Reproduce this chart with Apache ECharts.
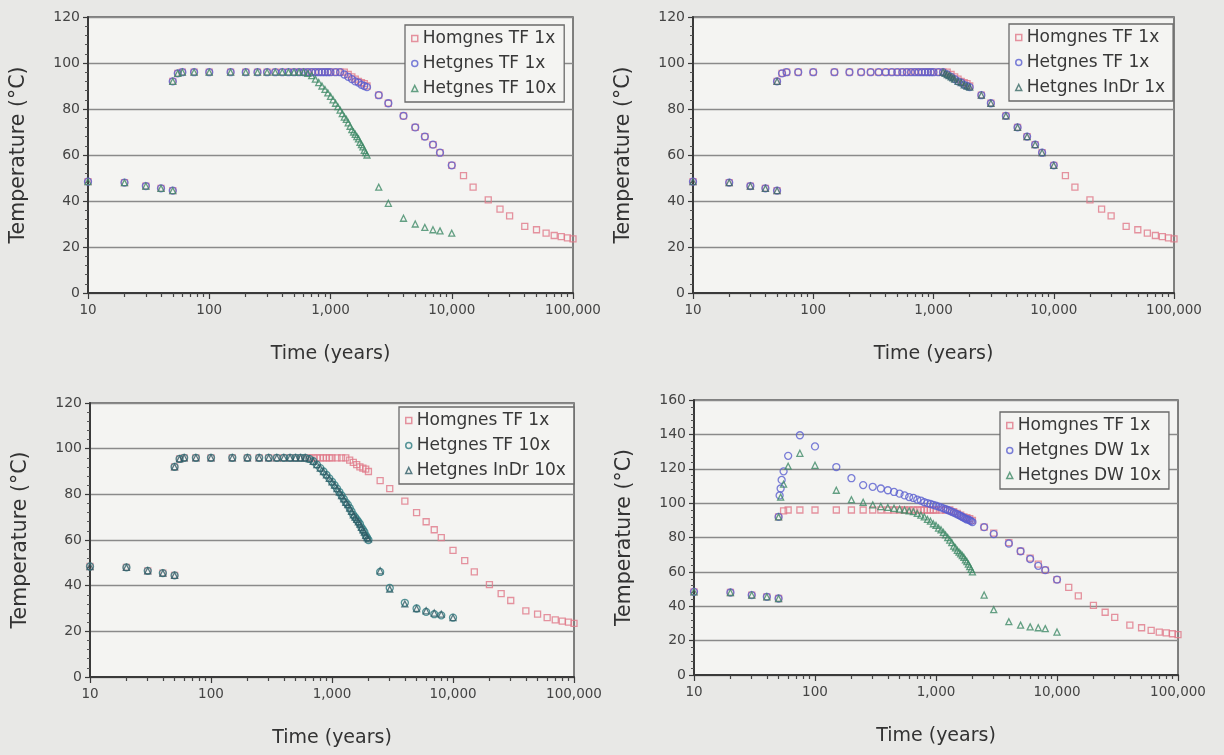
<!DOCTYPE html>
<html><head><meta charset="utf-8">
<script src="https://cdn.jsdelivr.net/npm/echarts@6/dist/echarts.min.js"></script>
<style>html,body{margin:0;padding:0;background:#e8e8e6;}#c{width:1224px;height:755px;}</style>
</head><body><div id="c"></div>
<script>
// ---------- tick labels ----------
const X_MIN = 10, X_MAX = 100000;
const MINOR_TICKS = [20,30,40,50,60,70,80,90,200,300,400,500,600,700,800,900,
  2000,3000,4000,5000,6000,7000,8000,9000,20000,30000,40000,50000,60000,70000,80000,90000];
const Y_MAX = [120, 120, 120, 160];

// ---------- Homogeneous TF 1x (all panels) ----------
const T_HOM = [10,20,30,40,50, 50,55,60,75,100, 150,200,250,300,350, 400,450,500,550,600,
  650,700,750,800,850, 900,950,1000,1100,1200, 1300,1400,1500,1600,1700, 1800,1900,2000,2500,3000,
  4000,5000,6000,7000,8000, 10000,12500,15000,20000,25000, 30000,40000,50000,60000,70000, 80000,90000,100000];
const V_HOM = [48.4,48,46.5,45.5,44.5, 92,95.5,96,96,96, 96,96,96,96,96, 96,96,96,96,96,
  96,96,96,96,96, 96,96,96,96,96, 96,95,94,93,92, 91.5,91,90,86,82.5,
  77,72,68,64.5,61, 55.5,51,46,40.5,36.5, 33.5,29,27.5,26,25, 24.5,24,23.5];

// ---------- Heterogeneous TF 1x ----------
const T_TF1 = [10,20,30,40,50, 50,55,60,75,100, 150,200,250,300,350, 400,450,500,550,600,
  650,700,750,800,850, 900,950,1000,1100,1200, 1300,1400,1500,1600,1700, 1800,1900,2000,2500,3000,
  4000,5000,6000,7000,8000, 10000];
const V_TF1 = [48.4,48,46.5,45.5,44.5, 92,95.5,96,96,96, 96,96,96,96,96, 96,96,96,96,96,
  96,96,96,96,96, 96,96,96,96,96, 95,94,93,92,91.5, 90.5,90,89.5,86,82.5,
  77,72,68,64.5,61, 55.5];

// ---------- Heterogeneous InDr 1x ----------
const T_INDR1 = [10,20,30,40,50, 50,1200,1250,1300,1350, 1400,1450,1500,1600,1700, 1800,1900,2000,2500,3000,
  4000,5000,6000,7000,8000, 10000];
const V_INDR1 = [48.4,48,46.5,45.5,44.5, 92,96,95.5,95,94.5, 94,93.5,93,92,91.5, 90.5,90,89.5,86,82.5,
  77,72,68,64.5,61, 55.5];

// ---------- Heterogeneous TF 10x / InDr 10x ----------
const T_10X = [10,20,30,40,50, 50,55,60,75,100, 150,200,250,300,350, 400,450,500,550,600,
  650,700,750,800,850, 900,950,1000,1050,1100, 1150,1200,1250,1300,1350, 1400,1450,1500,1550,1600,
  1650,1700,1750,1800,1850, 1900,1950,2000,2500,3000, 4000,5000,6000,7000,8000, 10000];
const V_TF10 = [48.4,48,46.5,45.5,44.5, 92,95.5,96,96,96, 96,96,96,96,96, 96,96,96,96,96,
  95.5,94.5,93,91.5,90, 88.5,87,85.5,84,82.5, 81,79.5,78,76.5,75.5, 74,72.5,71,70,69,
  68,67,65.5,64.5,63.5, 62,61,60,46,39, 32.5,30,28.5,27.5,27, 26];
const V_INDR10 = [48.4,48,46.5,45.5,44.5, 92,95.5,96,96,96, 96,96,96,96,96, 96,96,96,96,96,
  95.5,94.5,93,91.5,90, 88.5,87,85.5,84,82.5, 81,79.5,78,76.5,75.5, 74,72.5,71,70,69,
  68,67,65.5,64.5,63.5, 62,61,60.5,46.5,38.5, 32,30,29,28,27.5, 26];

// ---------- Heterogeneous DW 1x / DW 10x ----------
const T_DW1 = [10,20,30,40,50, 50,51,52,53,55, 60,75,100,150,200, 250,300,350,400,450,
  500,550,600,650,700, 750,800,850,900,950, 1000,1050,1100,1150,1200, 1250,1300,1350,1400,1450,
  1500,1550,1600,1650,1700, 1750,1800,1850,1900,1950, 2000,2500,3000,4000,5000, 6000,7000,8000,10000];
const V_DW1 = [48.4,48,46.5,45.5,44.5, 92,104.5,108.5,113.5,118.5, 127.5,139.5,133,121,114.5,
  110.5,109.5,108.5,107.5,106.5, 105.5,104.5,103.5,103,102, 101.5,100.5,100,99.5,99,
  98.5,98,97.5,97,96.5, 96,95.5,95,94.5,94, 93.5,93,92.5,92,91.5, 91,90.5,90.5,90,89.5,
  89,86,82,76.5,72, 67.5,63.5,61,55.5];
const T_DW10 = [10,20,30,40,50, 50,52,55,60,75, 100,150,200,250,300, 350,400,450,500,550,
  600,650,700,750,800, 850,900,950,1000,1050, 1100,1150,1200,1250,1300, 1350,1400,1450,1500,1550,
  1600,1650,1700,1750,1800, 1850,1900,1950,2000,2500, 3000,4000,5000,6000,7000, 8000,10000];
const V_DW10 = [48.4,48,46.5,45.5,44.5, 92,103.5,111,121.5,129, 122,107.5,102,100.5,99,
  98,97.5,97,96.5,96, 95.5,95,94,93,92, 90.5,89.5,88,87,85.5, 84.5,83,81.5,80,78.5,
  77,75,74,72.5,71.5, 70.5,69.5,68.5,67,66, 64.5,63,61.5,60,46.5, 38,31,29,28,27.5, 27,25];

// ---------- styling ----------
const FONT = 'DejaVu Sans';
const C_HOM = '#e07888', C_BLUE = '#5a5fd0', C_GREEN = '#3e8a66', C_TEAL = '#2c7a80',
      C_DARK = '#2f5d66', C_INDR1 = '#3a6a66';
const SYM = {rect: 6, circle: 7, triangle: 6};

const pair = (t, v) => t.map((x, i) => [x, v[i]]);
function sc(name, gi, t, v, symbol, color) {
  return {type: 'scatter', name, xAxisIndex: gi, yAxisIndex: gi, data: pair(t, v),
    symbol, symbolSize: SYM[symbol], silent: true, animation: false,
    itemStyle: {color: 'rgba(0,0,0,0)', borderColor: color, borderWidth: 1.3}};
}
function lg(name, symbol, color) {
  return {name, icon: symbol,
    itemStyle: {color: 'rgba(0,0,0,0)', borderColor: color, borderWidth: 1.5}};
}

const panels = [
  {grid: {left: 88, top: 17, width: 485, height: 276}, legendPos: {left: 405, top: 25},
   series: [['Homgnes TF 1x', T_HOM, V_HOM, 'rect', C_HOM],
            ['Hetgnes TF 1x', T_TF1, V_TF1, 'circle', C_BLUE],
            ['Hetgnes TF 10x', T_10X, V_TF10, 'triangle', C_GREEN]]},
  {grid: {left: 693, top: 17, width: 481, height: 276}, legendPos: {left: 1009, top: 24},
   series: [['Homgnes TF 1x', T_HOM, V_HOM, 'rect', C_HOM],
            ['Hetgnes TF 1x', T_TF1, V_TF1, 'circle', C_BLUE],
            ['Hetgnes InDr 1x', T_INDR1, V_INDR1, 'triangle', C_INDR1]]},
  {grid: {left: 90, top: 403, width: 484, height: 274}, legendPos: {left: 399, top: 407},
   series: [['Homgnes TF 1x', T_HOM, V_HOM, 'rect', C_HOM],
            ['Hetgnes TF 10x', T_10X, V_TF10, 'circle', C_TEAL],
            ['Hetgnes InDr 10x', T_10X, V_INDR10, 'triangle', C_DARK]]},
  {grid: {left: 694, top: 400, width: 484, height: 275}, legendPos: {left: 1000, top: 412},
   series: [['Homgnes TF 1x', T_HOM, V_HOM, 'rect', C_HOM],
            ['Hetgnes DW 1x', T_DW1, V_DW1, 'circle', C_BLUE],
            ['Hetgnes DW 10x', T_DW10, V_DW10, 'triangle', C_GREEN]]}
];

const mainX = panels.map((p, i) => ({
  type: 'log', logBase: 10, gridIndex: i, min: X_MIN, max: X_MAX, position: 'bottom',
  name: 'Time (years)', nameLocation: 'middle', nameGap: 52,
  nameTextStyle: {fontFamily: FONT, fontSize: 19, color: '#333'},
  axisLine: {onZero: false, lineStyle: {color: '#3a3a3a', width: 2}},
  axisTick: {show: true, length: 6, lineStyle: {color: '#3a3a3a', width: 1.2}},
  minorTick: {show: false},
  splitLine: {show: false},
  axisLabel: {fontFamily: FONT, fontSize: 13.5, color: '#444', margin: 10,
    formatter: v => Number(v).toLocaleString('en-US')}
}));
// overlay axes carrying only the minor (2..9 x decade) ticks
const minorX = panels.map((p, i) => ({
  type: 'log', logBase: 10, gridIndex: i, min: X_MIN, max: X_MAX, position: 'bottom', offset: 0,
  axisLine: {show: false, onZero: false},
  axisTick: {show: true, inside: false, length: 4, customValues: MINOR_TICKS,
    lineStyle: {color: '#444', width: 1.2}},
  axisLabel: {show: false},
  splitLine: {show: false}
}));

const option = {
  backgroundColor: '#e8e8e6',
  animation: false,
  textStyle: {fontFamily: FONT},
  grid: panels.map(p => Object.assign({show: true, backgroundColor: '#f4f4f2',
    borderColor: '#5a5a5a', borderWidth: 1.5}, p.grid)),
  xAxis: mainX.concat(minorX),
  yAxis: panels.map((p, i) => ({
    type: 'value', gridIndex: i, min: 0, max: Y_MAX[i], interval: 20,
    name: 'Temperature (°C)', nameLocation: 'middle', nameGap: 59, nameRotate: 90,
    nameTextStyle: {fontFamily: FONT, fontSize: 20.5, color: '#333'},
    axisLine: {show: true, lineStyle: {color: '#3a3a3a', width: 2}},
    axisTick: {show: true, length: 5, lineStyle: {color: '#3a3a3a', width: 1.2}},
    minorTick: {show: true, splitNumber: 5, length: 3, lineStyle: {color: '#555'}},
    splitLine: {show: true, lineStyle: {color: '#8a8a8a', width: 1.3}},
    axisLabel: {fontFamily: FONT, fontSize: 14, color: '#444', margin: 8}
  })),
  legend: panels.map(p => ({
    left: p.legendPos.left, top: p.legendPos.top, orient: 'vertical',
    backgroundColor: '#f4f4f2', borderColor: '#6a6a6a', borderWidth: 1.3,
    padding: [4, 8, 4, 6], itemGap: 6, itemWidth: 6, itemHeight: 6,
    selectedMode: false,
    textStyle: {fontFamily: FONT, fontSize: 17, color: '#383838', lineHeight: 19},
    data: p.series.map(s => lg(s[0], s[3], s[4]))
  })),
  series: []
};

panels.forEach((p, i) => {
  p.series.forEach(s => option.series.push(sc(s[0], i, s[1], s[2], s[3], s[4])));
});

const chart = echarts.init(document.getElementById('c'), null, {renderer: 'canvas'});
chart.setOption(option);
</script>
</body></html>
